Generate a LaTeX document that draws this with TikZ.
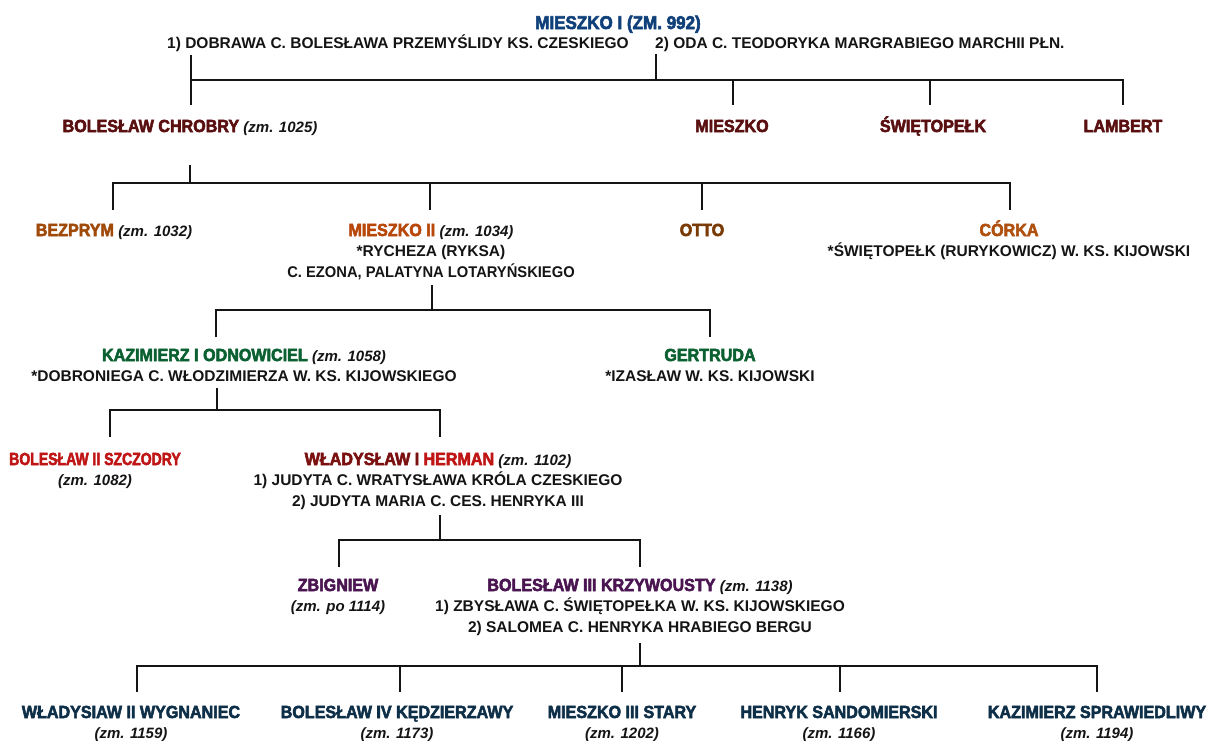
\documentclass[tikz,border=0pt]{standalone}
\usepackage{fontspec}
\usepackage{graphicx}
\setmainfont{Liberation Sans}
\newfontfamily\heavyfont{Liberation Sans}[FakeBold=3, FakeStretch=0.92]
\definecolor{ink}{HTML}{141414}
\definecolor{cTitle}{HTML}{10407A}
\definecolor{cLone}{HTML}{5A1010}
\definecolor{cBez}{HTML}{A04A0A}
\definecolor{cMtwo}{HTML}{B8480A}
\definecolor{cOtto}{HTML}{7A3A05}
\definecolor{cCor}{HTML}{B05010}
\definecolor{cGreen}{HTML}{0A6030}
\definecolor{cRed}{HTML}{C01515}
\definecolor{cRedDark}{HTML}{7A1010}
\definecolor{cPurple}{HTML}{4A1550}
\definecolor{cTeal}{HTML}{0E2F48}
\newcommand\pname[2]{{\heavyfont\bfseries\fontsize{17.5}{20.5}\selectfont\color{#1}#2}}
\newcommand\pdied[1]{{\bfseries\itshape\fontsize{15}{20.5}\selectfont\color{ink}#1}}
\tikzset{
  person/.style={anchor=base, align=center, inner sep=0pt, text=ink,
    font=\fontsize{15.5}{20.5}\selectfont\bfseries},
  conn/.style={line width=2.2pt, draw=ink, line join=miter}
}
\begin{document}
\begin{tikzpicture}[x=1pt,y=-1pt]
\fill[white] (0,0) rectangle (1210,740);
\useasboundingbox (0,0) rectangle (1210,740);

% generation 0
\node[person] (title) at (618,29) {{\heavyfont\bfseries\fontsize{18.5}{20.5}\selectfont\color{cTitle}MIESZKO I (ZM. 992)}};
\node[person, anchor=base west] (w1) at (167,48) {1) DOBRAWA C. BOLESŁAWA PRZEMYŚLIDY KS. CZESKIEGO};
\node[person, anchor=base west] (w2) at (655,48) {2) ODA C. TEODORYKA MARGRABIEGO MARCHII PŁN.};

% generation 1
\node[person] (chrobry) at (190,132) {\pname{cLone}{BOLESŁAW CHROBRY} \pdied{(zm. 1025)}};
\node[person] (mieszko) at (732,132) {\pname{cLone}{MIESZKO}};
\node[person] (swietopelk) at (933,132) {\pname{cLone}{ŚWIĘTOPEŁK}};
\node[person] (lambert) at (1123,132) {\pname{cLone}{LAMBERT}};

% generation 2 (node base = baseline of last line)
\node[person] (bezprym) at (114,236) {\pname{cBez}{BEZPRYM} \pdied{(zm. 1032)}};
\node[person] (mieszko2) at (431,277) {\pname{cMtwo}{MIESZKO II} \pdied{(zm. 1034)}\\*RYCHEZA (RYKSA)\\\scalebox{0.95}[1]{C. EZONA, PALATYNA LOTARYŃSKIEGO}};
\node[person] (otto) at (702,236) {\pname{cOtto}{OTTO}};
\node[person] (corka) at (1009,256.5) {\pname{cCor}{CÓRKA}\\*ŚWIĘTOPEŁK (RURYKOWICZ) W. KS. KIJOWSKI};

% generation 3
\node[person] (kazimierz) at (244,381.5) {\pname{cGreen}{KAZIMIERZ I ODNOWICIEL} \pdied{(zm. 1058)}\\*DOBRONIEGA C. WŁODZIMIERZA W. KS. KIJOWSKIEGO};
\node[person] (gertruda) at (710,381.5) {\pname{cGreen}{GERTRUDA}\\*IZASŁAW W. KS. KIJOWSKI};

% generation 4
\node[person] (szczodry) at (95,485.5) {\scalebox{0.87}[1]{\pname{cRed}{BOLESŁAW II SZCZODRY}}\\\pdied{(zm. 1082)}};
\node[person] (herman) at (438,506) {\pname{cRedDark}{WŁADYSŁAW I} \pname{cRed}{HERMAN} \pdied{(zm. 1102)}\\1) JUDYTA C. WRATYSŁAWA KRÓLA CZESKIEGO\\2) JUDYTA MARIA C. CES. HENRYKA III};

% generation 5
\node[person] (zbigniew) at (338,611.5) {\pname{cPurple}{ZBIGNIEW}\\\pdied{(zm. po 1114)}};
\node[person] (krzywousty) at (640,632) {\pname{cPurple}{BOLESŁAW III KRZYWOUSTY} \pdied{(zm. 1138)}\\1) ZBYSŁAWA C. ŚWIĘTOPEŁKA W. KS. KIJOWSKIEGO\\2) SALOMEA C. HENRYKA HRABIEGO BERGU};

% generation 6
\node[person] (wygnaniec) at (131,738.5) {\pname{cTeal}{WŁADYSIAW II WYGNANIEC}\\\pdied{(zm. 1159)}};
\node[person] (kedzierzawy) at (397,738.5) {\pname{cTeal}{BOLESŁAW IV KĘDZIERZAWY}\\\pdied{(zm. 1173)}};
\node[person] (stary) at (622,738.5) {\pname{cTeal}{MIESZKO III STARY}\\\pdied{(zm. 1202)}};
\node[person] (henryk) at (839,738.5) {\pname{cTeal}{HENRYK SANDOMIERSKI}\\\pdied{(zm. 1166)}};
\node[person] (sprawiedliwy) at (1097,738.5) {\pname{cTeal}{KAZIMIERZ SPRAWIEDLIWY}\\\pdied{(zm. 1194)}};

% connector points
\path (w1.base west) ++(24,7) coordinate (t1);
\path (w2.base west) ++(1,6) coordinate (t2);
\path (w2.base west) ++(1,32) coordinate (j0);
\path (chrobry.base) ++(1,-27) coordinate (chrobry-in);
\path (mieszko.base) ++(1,-27) coordinate (mieszko-in);
\path (swietopelk.base) ++(-3,-27) coordinate (swietopelk-in);
\path (lambert.base) ++(0,-27) coordinate (lambert-in);

\path (chrobry.base) ++(0,33) coordinate (chrobry-out);
\path (chrobry.base) ++(0,51) coordinate (j1);
\path (bezprym.base) ++(-1,-26) coordinate (bezprym-in);
\path (mieszko2.base) ++(-1,-67) coordinate (mieszko2-in);
\path (otto.base) ++(0,-26) coordinate (otto-in);
\path (corka.base) ++(1,-46.5) coordinate (corka-in);

\path (mieszko2.base) ++(1,8) coordinate (mieszko2-out);
\path (mieszko2.base) ++(1,33) coordinate (j2);
\path (kazimierz.base) ++(-28,-44.5) coordinate (kazimierz-in);
\path (gertruda.base) ++(0,-44.5) coordinate (gertruda-in);

\path (kazimierz.base) ++(-27,6.5) coordinate (kazimierz-out);
\path (kazimierz.base) ++(-27,28.5) coordinate (j3);
\path (szczodry.base) ++(15,-48.5) coordinate (szczodry-in);
\path (herman.base) ++(2,-69) coordinate (herman-in);

\path (herman.base) ++(2,9) coordinate (herman-out);
\path (herman.base) ++(2,34) coordinate (j4);
\path (zbigniew.base) ++(1,-44.5) coordinate (zbigniew-in);
\path (krzywousty.base) ++(0,-65) coordinate (krzywousty-in);

\path (krzywousty.base) ++(0,11) coordinate (krzywousty-out);
\path (krzywousty.base) ++(0,34) coordinate (j5);
\path (wygnaniec.base) ++(6,-46.5) coordinate (wygnaniec-in);
\path (kedzierzawy.base) ++(3,-46.5) coordinate (kedzierzawy-in);
\path (stary.base) ++(0,-46.5) coordinate (stary-in);
\path (henryk.base) ++(1,-46.5) coordinate (henryk-in);
\path (sprawiedliwy.base) ++(0,-46.5) coordinate (sprawiedliwy-in);

% connectors
\draw[conn] (t1) -- (chrobry-in);
\draw[conn] (t2) -- (j0);
\draw[conn] (chrobry-in |- j0) -| (lambert-in);
\draw[conn] (mieszko-in |- j0) -- (mieszko-in);
\draw[conn] (swietopelk-in |- j0) -- (swietopelk-in);

\draw[conn] (chrobry-out) -- (j1);
\draw[conn] (bezprym-in) |- (j1) -| (corka-in);
\draw[conn] (mieszko2-in |- j1) -- (mieszko2-in);
\draw[conn] (otto-in |- j1) -- (otto-in);

\draw[conn] (mieszko2-out) -- (j2);
\draw[conn] (kazimierz-in) |- (j2) -| (gertruda-in);

\draw[conn] (kazimierz-out) -- (j3);
\draw[conn] (szczodry-in) |- (j3) -| (herman-in);

\draw[conn] (herman-out) -- (j4);
\draw[conn] (zbigniew-in) |- (j4) -| (krzywousty-in);

\draw[conn] (krzywousty-out) -- (j5);
\draw[conn] (wygnaniec-in) |- (j5) -| (sprawiedliwy-in);
\draw[conn] (kedzierzawy-in |- j5) -- (kedzierzawy-in);
\draw[conn] (stary-in |- j5) -- (stary-in);
\draw[conn] (henryk-in |- j5) -- (henryk-in);
\end{tikzpicture}
\end{document}
